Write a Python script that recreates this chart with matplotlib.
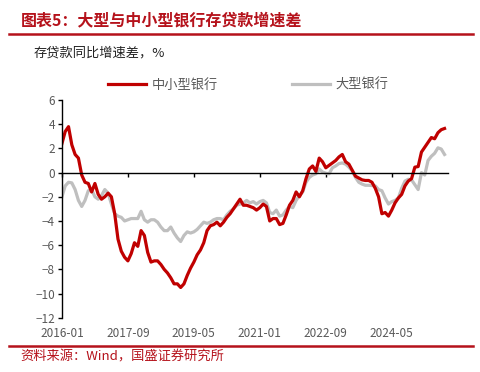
import numpy as np
import pandas as pd
import matplotlib
matplotlib.use('Agg')
import matplotlib.pyplot as plt
from matplotlib.lines import Line2D

plt.rcParams['font.family'] = ['Noto Sans CJK SC', 'DejaVu Sans']
plt.rcParams['axes.unicode_minus'] = True

# monthly, 2016-01 .. 2025-09
months = pd.date_range('2016-01-01', periods=117, freq='MS')

small_mid = [
    2.4, 3.4, 3.8, 2.3, 1.5, 1.2, -0.2, -0.8, -0.9, -1.6,
    -0.9, -1.8, -2.2, -2.0, -1.7, -2.0, -3.4, -5.5, -6.5, -7.0,
    -7.3, -6.7, -5.8, -6.1, -4.8, -5.2, -6.6, -7.4, -7.3, -7.3,
    -7.6, -8.0, -8.3, -8.7, -9.2, -9.2, -9.5, -9.2, -8.5, -7.9,
    -7.4, -6.8, -6.4, -5.8, -4.8, -4.4, -4.3, -4.1, -4.4, -4.1,
    -3.7, -3.4, -3.0, -2.6, -2.2, -2.7, -2.7, -2.8, -2.9, -3.1,
    -2.9, -2.6, -2.8, -4.0, -3.8, -3.8, -4.3, -4.2, -3.5, -2.7,
    -2.3, -1.6, -2.0, -1.5, -0.5, 0.3, 0.55, 0.1, 1.2, 0.9,
    0.4, 0.6, 0.8, 1.0, 1.3, 1.5, 0.9, 0.7, 0.2, -0.3,
    -0.45, -0.6, -0.65, -0.65, -0.8, -1.3, -2.0, -3.4, -3.3, -3.6,
    -3.1, -2.5, -2.1, -1.8, -1.1, -0.7, -0.5, 0.45, 0.5, 1.7,
    2.1, 2.5, 2.9, 2.8, 3.3, 3.55, 3.65,
]

large = [
    -2.0, -1.1, -0.8, -0.85, -1.4, -2.3, -2.8, -2.3, -1.5, -1.4,
    -2.0, -2.2, -1.9, -1.4, -1.7, -2.6, -3.4, -3.6, -3.7, -4.0,
    -3.9, -3.8, -3.8, -3.8, -3.2, -3.9, -4.1, -3.9, -3.9, -4.1,
    -4.5, -4.8, -4.8, -4.5, -5.0, -5.4, -5.7, -5.2, -4.9, -5.0,
    -4.9, -4.7, -4.4, -4.1, -4.2, -4.1, -3.9, -3.8, -3.8, -3.9,
    -3.5, -3.2, -3.0, -2.7, -2.6, -2.5, -2.3, -2.5, -2.4, -2.6,
    -2.4, -2.3, -2.5, -3.3, -3.4, -3.1, -3.6, -3.5, -3.1, -2.8,
    -2.9, -2.3, -1.9, -1.6, -0.8, -0.4, -0.2, -0.1, 0.3, 0.05,
    -0.05, -0.1, 0.4, 0.55, 0.75, 0.8, 0.7, 0.45, 0.15, -0.4,
    -0.8, -0.95, -1.05, -1.05, -1.07, -1.1, -1.4, -1.5, -2.1, -2.6,
    -2.4, -2.3, -2.1, -1.3, -0.7, -0.55, -0.6, -1.0, -1.4, 0.0,
    -0.2, 1.0, 1.35, 1.6, 2.05, 1.95, 1.5,
]

tick_labels = ['2016-01', '2017-09', '2019-05', '2021-01', '2022-09', '2024-05']

red = '#C00000'
gray = '#BFBFBF'
txt = '#595959'

fig = plt.figure(figsize=(4.8, 3.72), dpi=100)
ax = fig.add_axes([0.129, 0.146, 0.804, 0.585])

x = np.arange(len(months))
ax.plot(x, large, color=gray, lw=2.3, solid_joinstyle='round')
ax.plot(x, small_mid, color=red, lw=2.3, solid_joinstyle='round')

ax.set_xlim(0, len(months))
ax.set_ylim(-12, 6)
ax.set_yticks(range(-12, 7, 2))

tick_pos = [list(months.strftime('%Y-%m')).index(t) for t in tick_labels]
ax.set_xticks(tick_pos)
ax.set_xticklabels(tick_labels)

for s in ['top', 'right']:
    ax.spines[s].set_visible(False)
ax.spines['bottom'].set_position(('data', 0))
ax.spines['bottom'].set_linewidth(1.0)
ax.spines['left'].set_linewidth(1.0)
ax.tick_params(axis='x', direction='out', length=3, width=1, pad=108,
               labelsize=8.5, labelcolor=txt)
ax.tick_params(axis='y', direction='out', length=3, width=1, pad=2,
               labelsize=8.5, labelcolor=txt)

# header / footer
fig.text(0.043, 0.945, '图表5：大型与中小型银行存贷款增速差', color='#B5121B',
         fontsize=11.5, fontweight='bold', style='italic', va='center', ha='left')
fig.add_artist(Line2D([0.019, 0.985], [0.908, 0.908], color='#B5121B', lw=1.8))
fig.text(0.071, 0.858, '存贷款同比增速差，%', color='#222222', fontsize=9.5,
         va='center', ha='left')
fig.add_artist(Line2D([0.019, 0.985], [0.071, 0.071], color='#B5121B', lw=1.8))
fig.text(0.043, 0.039, '资料来源：Wind，国盛证券研究所', color='#B5121B',
         fontsize=9.5, style='italic', va='center', ha='left')

handles = [Line2D([], [], color=red, lw=2.3), Line2D([], [], color=gray, lw=2.3)]
fig.legend(handles, ['中小型银行', '大型银行'], loc='center left',
           bbox_to_anchor=(0.225, 0.771), ncol=2, frameon=False, fontsize=9.5,
           handlelength=2.9, handletextpad=0.4, columnspacing=5.6,
           borderpad=0, borderaxespad=0, labelcolor=txt)

fig.savefig('out.png', dpi=100)
